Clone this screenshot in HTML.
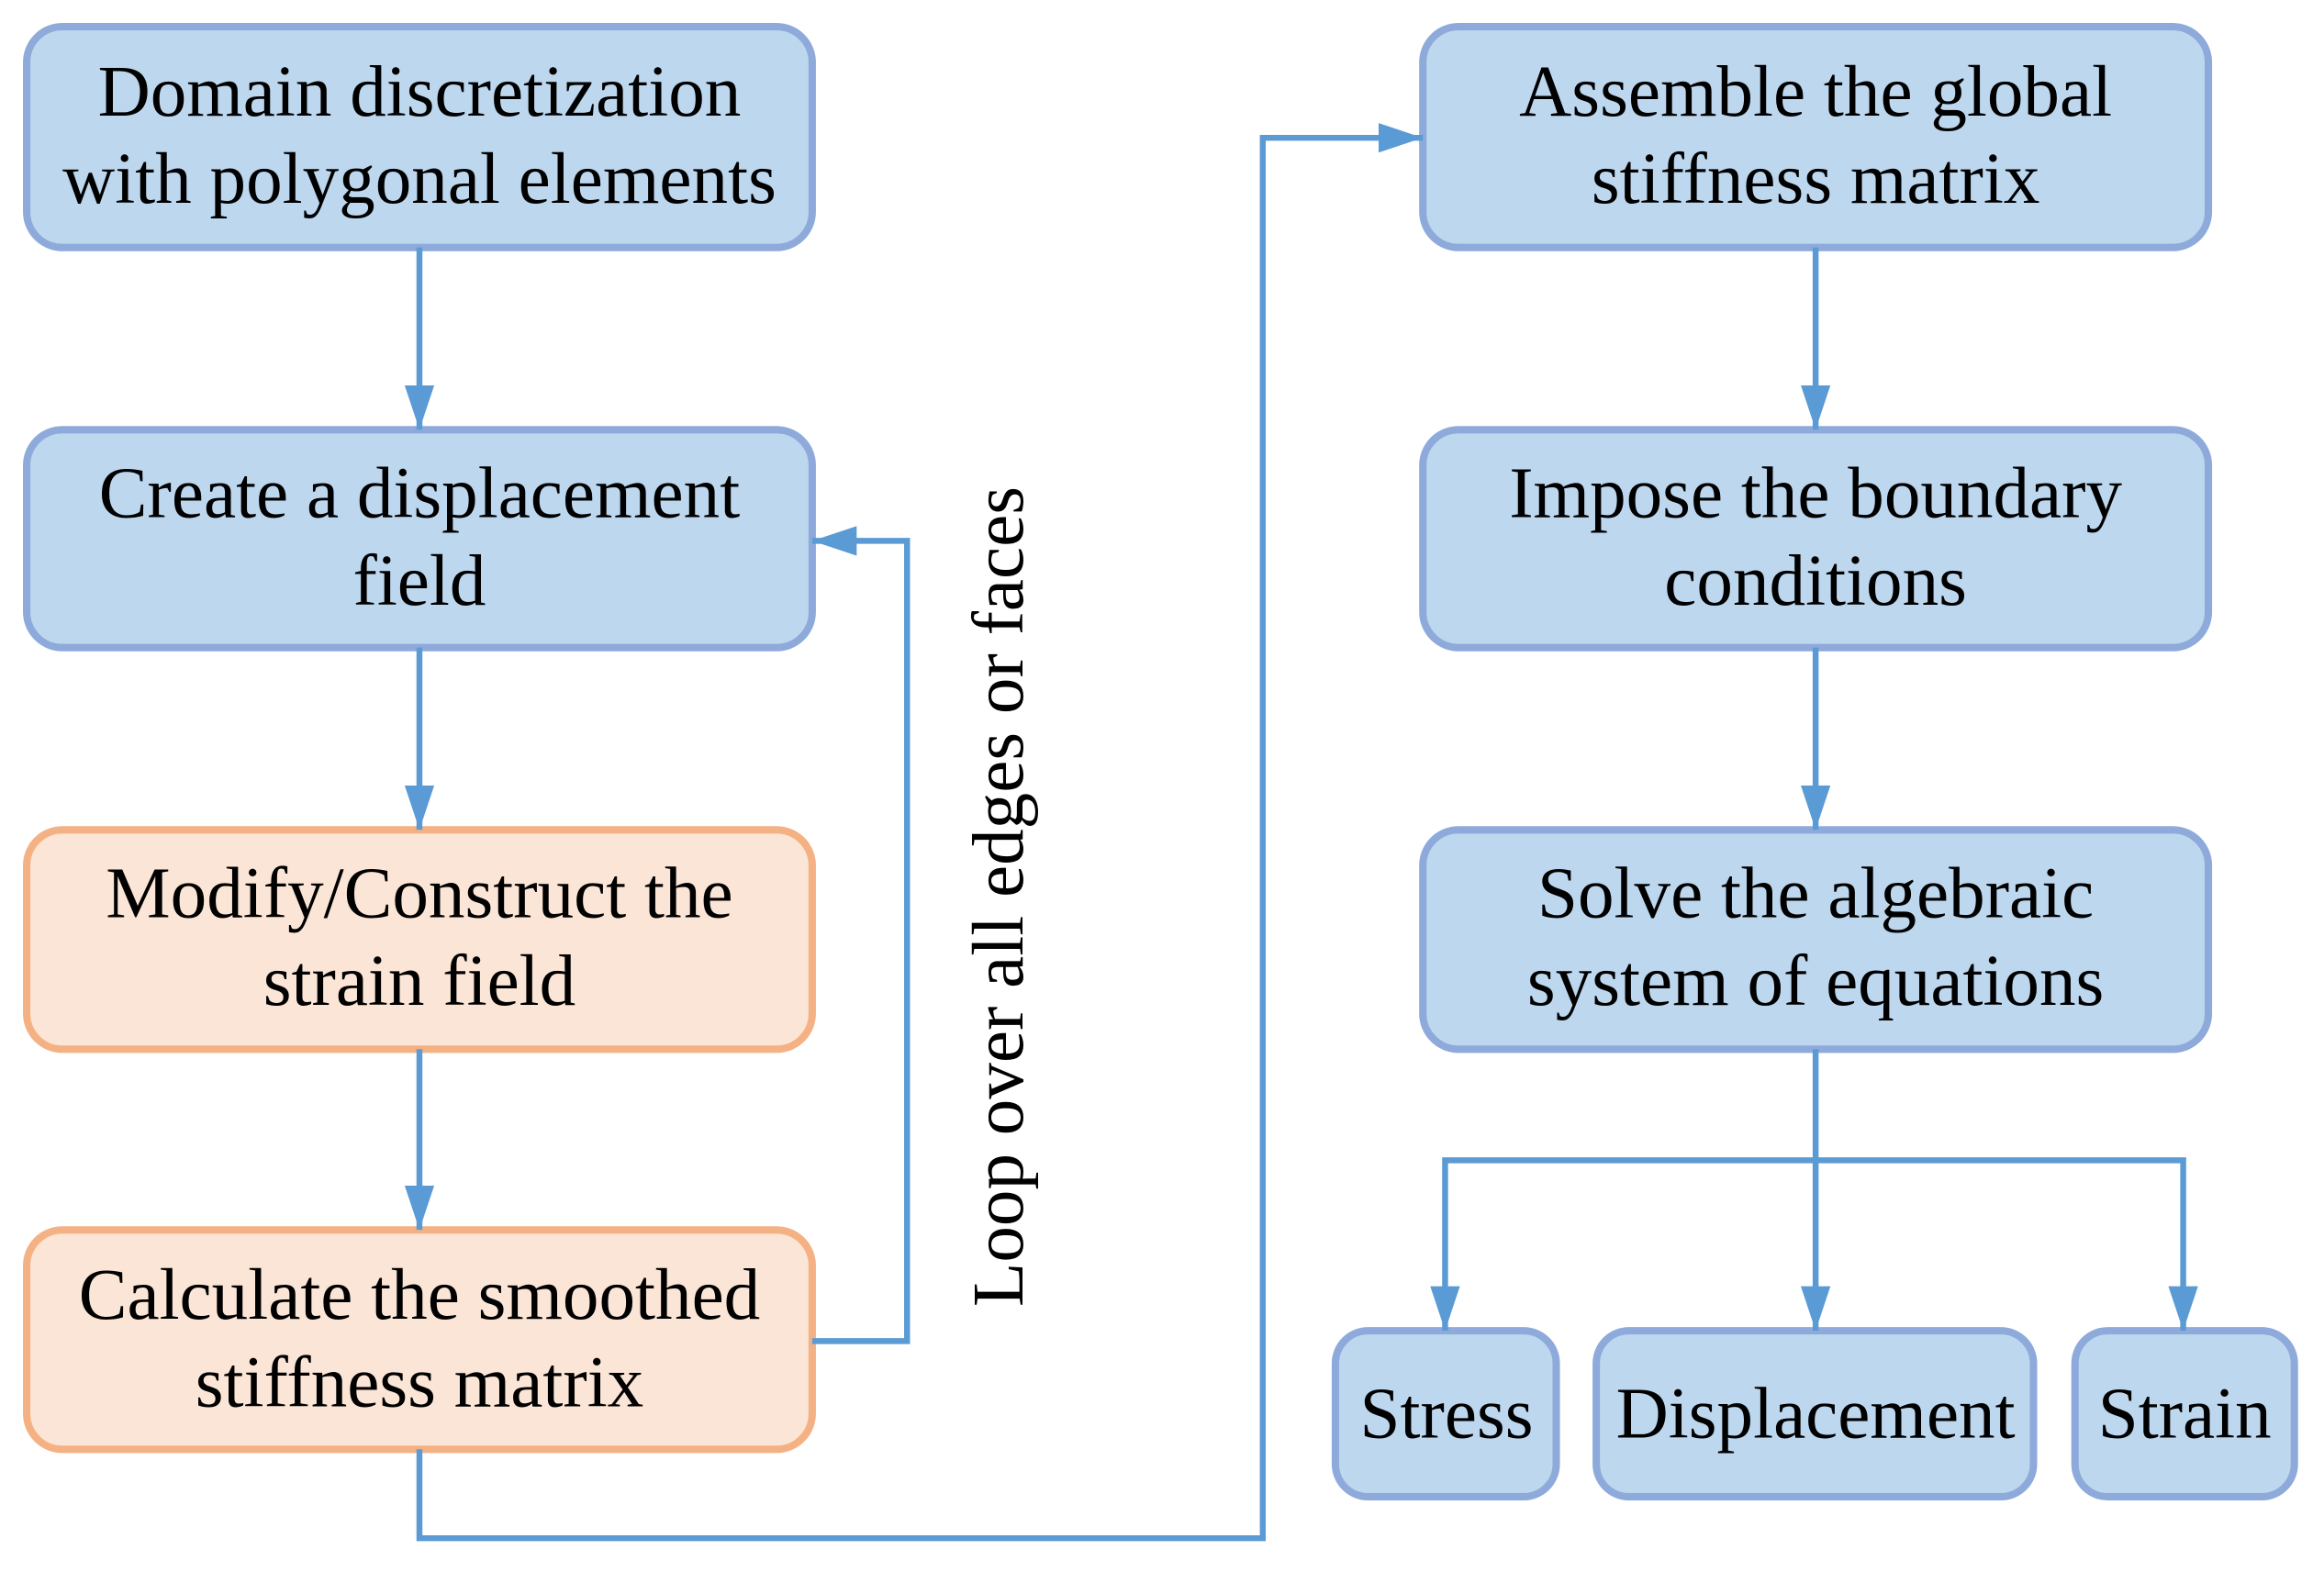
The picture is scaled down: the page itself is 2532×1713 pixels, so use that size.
<!DOCTYPE html>
<html><head><style>html,body{margin:0;padding:0;background:#fff}</style></head><body>
<svg width="2532" height="1708" viewBox="0 0 1568 1057.7" preserveAspectRatio="none" xmlns="http://www.w3.org/2000/svg">
<defs>
<marker id="b" viewBox="0 0 30 20" refX="30" refY="10" markerWidth="30" markerHeight="20" orient="auto" markerUnits="userSpaceOnUse"><path d="M0,0 L30,10 L0,20 z" fill="#5b9bd5"/></marker></defs>
<g fill="#bdd7ee" stroke="#8eaadb" stroke-width="5">
<rect x="18" y="18" width="530" height="149" rx="24"/>
<rect x="18" y="290" width="530" height="147" rx="24"/>
<rect x="960" y="18" width="530" height="149" rx="24"/>
<rect x="960" y="290" width="530" height="147" rx="24"/>
<rect x="960" y="560" width="530" height="148" rx="24"/>
<rect x="901" y="898" width="149" height="112" rx="22"/>
<rect x="1077" y="898" width="295" height="112" rx="22"/>
<rect x="1400" y="898" width="148" height="112" rx="22"/>
</g>
<g fill="#fbe5d6" stroke="#f4b183" stroke-width="5">
<rect x="18" y="560" width="530" height="148" rx="24"/>
<rect x="18" y="830" width="530" height="148" rx="24"/>
</g>
<g stroke="#5b9bd5" stroke-width="4" fill="none" marker-end="url(#b)">
<path d="M283,167 V290"/>
<path d="M283,437 V560"/>
<path d="M283,708 V830"/>
<path d="M548,905 H612 V365 H548"/>
<path d="M283,978 V1038 H852 V93 H960"/>
<path d="M1225,167 V290"/>
<path d="M1225,437 V560"/>
<path d="M1225,708 V898"/>
<path d="M1225,783 H975 V898"/>
<path d="M1225,783 H1473 V898"/>
</g>
<g font-family="Liberation Serif, serif" font-size="49" fill="#000" text-anchor="middle">
<text x="283" y="78">Domain discretization</text>
<text x="283" y="137">with polygonal elements</text>
<text x="283" y="349">Create a displacement</text>
<text x="283" y="408">field</text>
<text x="283" y="619">Modify/Construct the</text>
<text x="283" y="678">strain field</text>
<text x="283" y="890">Calculate the smoothed</text>
<text x="283" y="949">stiffness matrix</text>
<text x="1225" y="78">Assemble the global</text>
<text x="1225" y="137">stiffness matrix</text>
<text x="1225" y="349">Impose the boundary</text>
<text x="1225" y="408">conditions</text>
<text x="1225" y="619">Solve the algebraic</text>
<text x="1225" y="678">system of equations</text>
<text x="976" y="970">Stress</text>
<text x="1225" y="970">Displacement</text>
<text x="1474" y="970">Strain</text>
<text transform="translate(690,605) rotate(-90)">Loop over all edges or faces</text>
</g>
</svg>
</body></html>
